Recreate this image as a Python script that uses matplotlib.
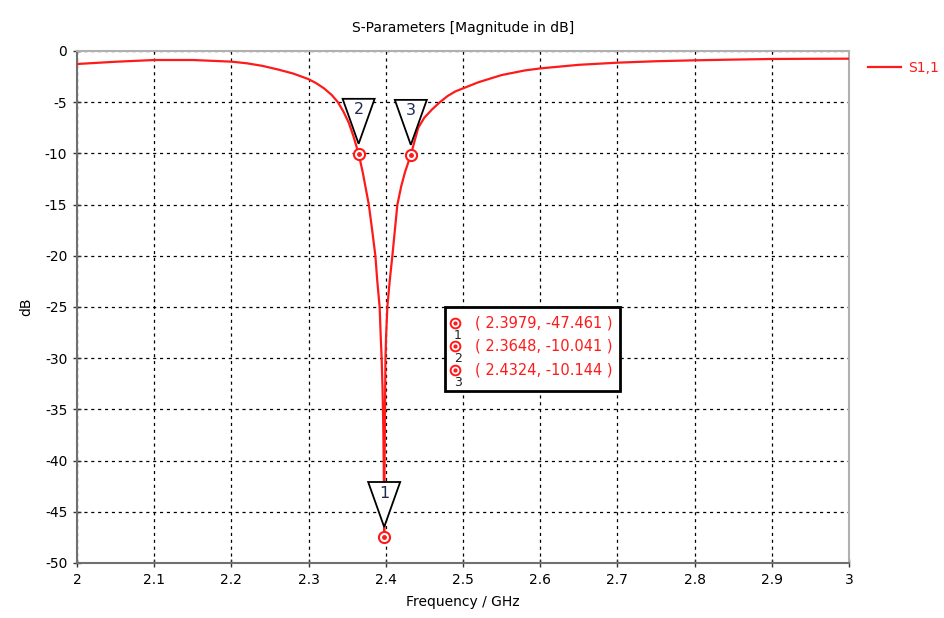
import matplotlib
matplotlib.use("Agg")
import matplotlib.pyplot as plt
from matplotlib.patches import Polygon, Rectangle
from matplotlib.lines import Line2D
from matplotlib.transforms import ScaledTranslation

# ---- data ----
freq = [2.00, 2.05, 2.10, 2.15, 2.20, 2.22, 2.24, 2.26, 2.28, 2.30, 2.31,
        2.32, 2.33, 2.338, 2.345, 2.352, 2.358, 2.3648, 2.37, 2.375, 2.378,
        2.382, 2.3865, 2.389, 2.392, 2.3935, 2.3946, 2.3958, 2.3968, 2.3974,
        2.3979,
        2.3984, 2.3988, 2.3992, 2.3996, 2.4003, 2.402, 2.405, 2.4085, 2.412,
        2.415, 2.42, 2.425, 2.4324, 2.438, 2.442, 2.45, 2.46, 2.47, 2.48,
        2.49, 2.50, 2.52, 2.55, 2.58, 2.60, 2.65, 2.70, 2.75, 2.80, 2.85,
        2.90, 2.95, 3.00]
s11 = [-1.27, -1.05, -0.88, -0.88, -1.04, -1.2, -1.45, -1.8, -2.2, -2.75, -3.15,
       -3.65, -4.3, -5.0, -5.9, -7.0, -8.3, -10.041, -11.8, -13.8, -15.0,
       -17.3, -20.0, -22.5, -25.0, -28.0, -30.0, -33.0, -37.0, -41.0,
       -47.461,
       -41.0, -37.0, -33.0, -30.0, -28.0, -25.0, -22.5, -20.0, -17.3,
       -15.0, -13.2, -11.8, -10.144, -8.6, -7.5, -6.5, -5.7, -5.0, -4.4,
       -3.95, -3.65, -3.05, -2.35, -1.9, -1.7, -1.35, -1.14, -1.0, -0.91, -0.84,
       -0.78, -0.76, -0.75]

marker_ids = ["1", "2", "3"]
marker_f = [2.3979, 2.3648, 2.4324]
marker_db = [-47.461, -10.041, -10.144]

xticks = [2.0, 2.1, 2.2, 2.3, 2.4, 2.5, 2.6, 2.7, 2.8, 2.9, 3.0]
xticklabels = ["2", "2.1", "2.2", "2.3", "2.4", "2.5", "2.6", "2.7", "2.8", "2.9", "3"]
yticks = [0, -5, -10, -15, -20, -25, -30, -35, -40, -45, -50]

RED = "#ff1a1a"
plt.rcParams["font.family"] = ["DejaVu Sans"]
FS = 10

fig = plt.figure(figsize=(9.45, 6.18), dpi=100)
ax = fig.add_axes([77/945, 1-563/618, (849-77)/945, (563-51)/618])

ax.plot(freq, s11, color=RED, lw=1.6, label="S1,1", zorder=3)

ax.set_xlim(2, 3)
ax.set_ylim(-50, 0)
ax.set_xticks(xticks)
ax.set_xticklabels(xticklabels, fontsize=FS)
ax.set_yticks(yticks)
ax.set_yticklabels([str(v) for v in yticks], fontsize=FS)
ax.tick_params(direction="inout", length=6, width=1, color="#333333", pad=4)
ax.grid(True, color="black", linestyle=(0, (2.5, 3)), linewidth=0.9)
for sp in ax.spines.values():
    sp.set_color("#b0b0b0")
    sp.set_linewidth(1.5)
ax.spines["left"].set_color("#707070")
ax.spines["bottom"].set_color("#707070")

ax.set_title("S-Parameters [Magnitude in dB]", fontsize=FS, pad=14)
ax.set_xlabel("Frequency / GHz", fontsize=FS, labelpad=6)
ax.set_ylabel("dB", fontsize=FS, labelpad=8)

# markers on the curve
ax.plot(marker_f, marker_db, linestyle="none", marker="o", ms=8, mfc="white",
        mec=RED, mew=1.5, zorder=5)
ax.plot(marker_f, marker_db, linestyle="none", marker="o", ms=2.5, mfc=RED,
        mec=RED, zorder=6)

# triangle flags above markers (pixel offsets, dpi = 100)
px = 1/100.0
for mid, f, d in zip(marker_ids, marker_f, marker_db):
    tr = fig.dpi_scale_trans + ScaledTranslation(f, d, ax.transData)
    tri = Polygon([(-16*px, 55*px), (16*px, 55*px), (0, 10*px)], closed=True,
                  facecolor="white", edgecolor="black", lw=1.3, transform=tr,
                  zorder=7)
    ax.add_patch(tri)
    ax.text(0, 44*px, mid, transform=tr, ha="center", va="center",
            fontsize=FS+1.5, color="#1f2a55", zorder=8)

# info box
fig.patches.append(Rectangle((445/945, 1-391/618), 175/945, 84/618,
                             transform=fig.transFigure, facecolor="white",
                             edgecolor="black", lw=2, zorder=10))
row_y = [323, 346, 370]
for mid, f, d, y in zip(marker_ids, marker_f, marker_db, row_y):
    fy = 1 - y/618
    fig.add_artist(Line2D([455/945], [fy], transform=fig.transFigure,
                          linestyle="none", marker="o", ms=7, mfc="white",
                          mec=RED, mew=1.4, zorder=11))
    fig.add_artist(Line2D([455/945], [fy], transform=fig.transFigure,
                          linestyle="none", marker="o", ms=2, mfc=RED,
                          mec=RED, zorder=12))
    fig.text(458/945, 1 - (y + 12)/618, mid, color="#222222", fontsize=FS - 1,
             ha="center", va="center", zorder=11)
    fig.text(475/945, fy, f"( {f:.4f}, {d:.3f} )", color=RED, fontsize=FS + 0.5,
             ha="left", va="center", zorder=11)

leg = ax.legend(loc="upper left", bbox_to_anchor=(1.012, 1.0), frameon=False,
                fontsize=FS, labelcolor=RED, handlelength=2.4,
                handletextpad=0.5, borderaxespad=0.3)

fig.savefig("out.png", dpi=100)
